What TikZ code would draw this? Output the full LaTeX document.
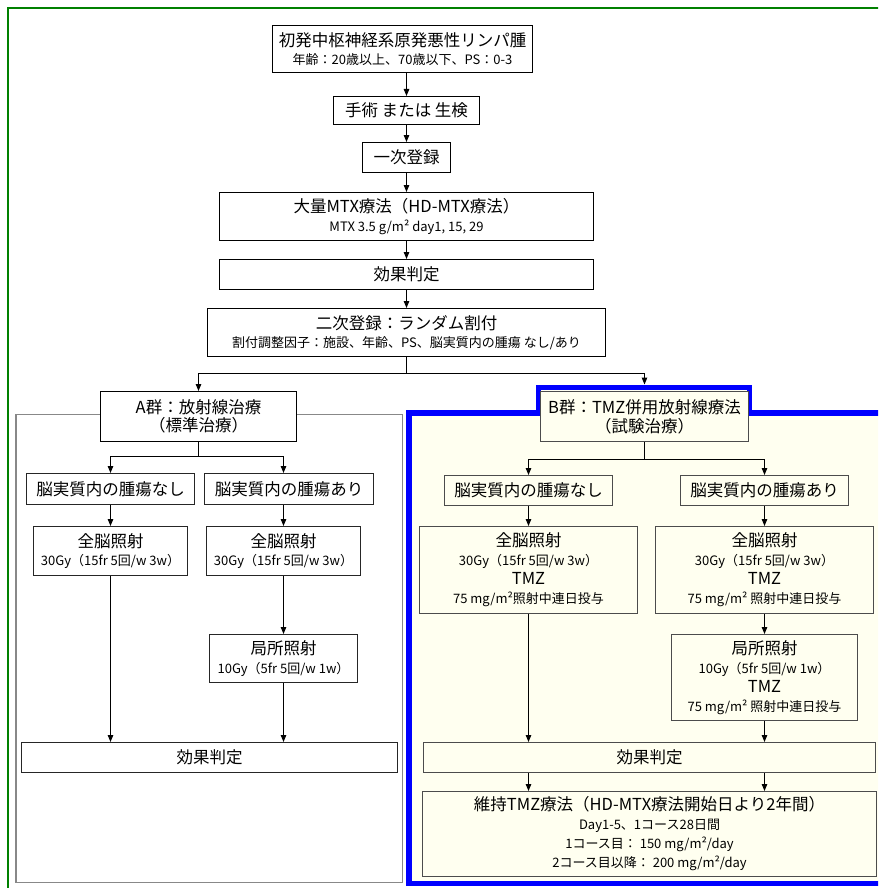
\documentclass[tikz,border=0pt]{standalone}
\usepackage{fontspec}
\setmainfont{Noto Sans CJK JP}
\usetikzlibrary{arrows.meta}
\definecolor{frameGreen}{RGB}{0,128,0}
\definecolor{frameBlue}{RGB}{0,0,255}
\definecolor{ivorybg}{RGB}{255,255,240}
\definecolor{frameGray}{RGB}{136,136,136}
\newcommand\smtxt[1]{{\fontsize{13}{15}\selectfont #1}}
\newcommand\flowbox[7]{\node[#2, minimum width={#5-#3}, minimum height={#6-#4}] (#1) at ({(#3+#5)/2},{(#4+#6)/2}) {#7};}
\begin{document}
\begin{tikzpicture}[x=1pt,y=-1pt,
  box/.style={draw=black, line width=1pt, fill=white, inner sep=0pt, align=center, font=\fontsize{16.5}{18.5}\selectfont},
  abox/.style={box, draw=black!85},
  bbox/.style={box, draw=black!70, fill=ivorybg, font=\fontsize{16.5}{19}\selectfont},
  arr/.style={line width=1pt, -{Triangle[length=7pt,width=5.5pt]}},
  con/.style={line width=1pt}]
\useasboundingbox (0,0) rectangle (878,888);
\clip (0,0) rectangle (878,888);
% outer frames
\draw[frameGreen, line width=2.4pt] (8,7.8) rectangle (900,900);
\draw[frameGray, line width=1.6pt] (16,414.3) rectangle (402.3,882.5);
\draw[frameBlue, line width=5.5pt, fill=ivorybg, line join=miter]
  (408.8,883.5) -- (408.8,412.8) -- (538.5,412.8) -- (538.5,387.5) -- (749.5,387.5)
  -- (749.5,412.8) -- (890,412.8) -- (890,883.5) -- cycle;
% main flow
\flowbox{top}{box}{272.5}{25.5}{532.5}{72.5}{初発中枢神経系原発悪性リンパ腫\\\smtxt{年齢：20歳以上、70歳以下、PS：0-3}}
\flowbox{surg}{box}{333.5}{96.5}{479.5}{124.5}{手術 または 生検}
\flowbox{reg1}{box}{362.5}{142.5}{450.5}{172.5}{一次登録}
\flowbox{mtx}{box}{219.5}{192.5}{593.5}{240.5}{大量MTX療法（HD-MTX療法）\\\smtxt{MTX 3.5 g/m² day1, 15, 29}}
\flowbox{ev1}{box}{219.5}{259.5}{593.5}{289.5}{効果判定}
\flowbox{rand}{box}{207.5}{308.5}{605.5}{356.5}{二次登録：ランダム割付\\\smtxt{割付調整因子：施設、年齢、PS、脳実質内の腫瘍 なし/あり}}
% arm A
\flowbox{A}{box}{100.5}{391.5}{296.5}{441.5}{A群：放射線治療\\（標準治療）}
\flowbox{A1}{abox}{26.5}{473.5}{194.5}{504.5}{脳実質内の腫瘍なし}
\flowbox{A2}{abox}{204.5}{473.5}{373.5}{504.5}{脳実質内の腫瘍あり}
\flowbox{A3}{abox}{33.5}{526.5}{187.5}{575.5}{全脳照射\\\smtxt{30Gy（15fr 5回/w 3w）}}
\flowbox{A4}{abox}{206.5}{526.5}{360.5}{575.5}{全脳照射\\\smtxt{30Gy（15fr 5回/w 3w）}}
\flowbox{A5}{abox}{209.5}{634.5}{357.5}{682.5}{局所照射\\\smtxt{10Gy（5fr 5回/w 1w）}}
\flowbox{A6}{abox}{21.5}{742.5}{397.5}{772.5}{効果判定}
% arm B
\flowbox{B}{bbox}{540.5}{391.5}{748.5}{441.5}{B群：TMZ併用放射線療法\\（試験治療）}
\flowbox{B1}{bbox}{444.5}{475.5}{612.5}{505.5}{脳実質内の腫瘍なし}
\flowbox{B2}{bbox}{680.5}{475.5}{848.5}{505.5}{脳実質内の腫瘍あり}
\flowbox{B3}{bbox}{419.5}{526.5}{637.5}{613.5}{全脳照射\\\smtxt{30Gy（15fr 5回/w 3w）}\\TMZ\\\smtxt{75 mg/m²照射中連日投与}}
\flowbox{B4}{bbox}{655.5}{526.5}{873.5}{613.5}{全脳照射\\\smtxt{30Gy（15fr 5回/w 3w）}\\TMZ\\\smtxt{75 mg/m² 照射中連日投与}}
\flowbox{B5}{bbox}{671.5}{634.5}{857.5}{720.5}{局所照射\\\smtxt{10Gy（5fr 5回/w 1w）}\\TMZ\\\smtxt{75 mg/m² 照射中連日投与}}
\flowbox{B6}{bbox}{423.5}{742.5}{875.5}{772.5}{効果判定}
\flowbox{B7}{bbox}{422.5}{791.5}{876.5}{876.5}{維持TMZ療法（HD-MTX療法開始日より2年間）\\\smtxt{Day1-5、1コース28日間}\\\smtxt{1コース目： 150 mg/m²/day}\\\smtxt{2コース目以降： 200 mg/m²/day}}
% connectors main
\draw[arr] (surg.north |- top.south) -- (surg.north);
\draw[arr] (surg.south) -- (surg.south |- reg1.north);
\draw[arr] (reg1.south) -- (reg1.south |- mtx.north);
\draw[arr] (mtx.south) -- (ev1.north);
\draw[arr] (ev1.south) -- (ev1.south |- rand.north);
\coordinate (sp) at (406.5,373.5);
\draw[con] (rand.south) -- (sp);
\draw[arr] (sp) -| (A.north);
\draw[arr, shorten >=6.5pt] (sp) -| (B.north);
% connectors A
\coordinate (asp) at ([yshift=-14pt]A.south);
\draw[con] (A.south) -- (asp);
\draw[arr] (asp) -| (A1.north);
\draw[arr] (asp) -| (A4.north |- A2.north);
\draw[arr] (A1.south) -- (A1.south |- A3.north);
\draw[arr] (A2.south -| A4.north) -- (A4.north);
\draw[arr] (A3.south) -- (A3.south |- A6.north);
\draw[arr] (A4.south) -- (A4.south |- A5.north);
\draw[arr] (A5.south) -- (A5.south |- A6.north);
% connectors B
\coordinate (bsp) at ([yshift=-17pt]B.south);
\draw[con] (B.south) -- (bsp);
\draw[arr] (bsp) -| (B1.north);
\draw[arr] (bsp) -| (B2.north);
\draw[arr] (B1.south) -- (B1.south |- B3.north);
\draw[arr] (B2.south) -- (B2.south |- B4.north);
\draw[arr] (B3.south) -- (B3.south |- B6.north);
\draw[arr] (B4.south) -- (B4.south |- B5.north);
\draw[arr] (B5.south) -- (B5.south |- B6.north);
\draw[arr] (B6.south -| B3.south) -- (B3.south |- B7.north);
\draw[arr] (B6.south -| B5.south) -- (B5.south |- B7.north);
\end{tikzpicture}
\end{document}
